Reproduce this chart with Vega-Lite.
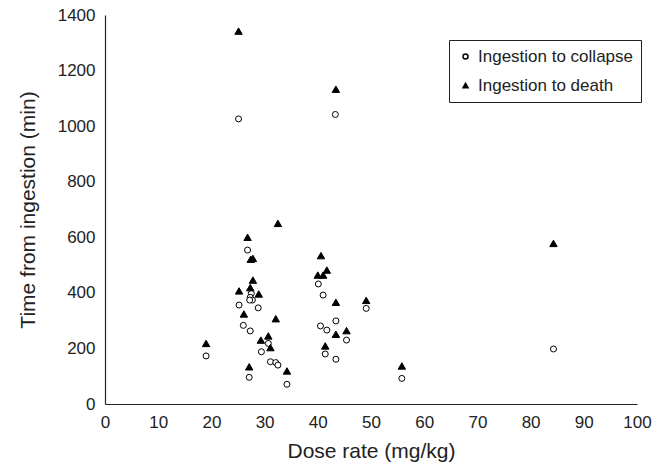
{
  "$schema": "https://vega.github.io/schema/vega-lite/v6.json",
  "autosize": "none",
  "width": 532,
  "height": 389,
  "padding": {"left": 105, "top": 15, "right": 28, "bottom": 61},
  "background": "white",
  "config": {
    "font": "Liberation Sans",
    "view": {"stroke": null}
  },
  "data": {
    "values": [
      {"dose": 25.1, "time": 1026, "series": "Ingestion to collapse"},
      {"dose": 43.3, "time": 1042, "series": "Ingestion to collapse"},
      {"dose": 84.3, "time": 198, "series": "Ingestion to collapse"},
      {"dose": 26.8, "time": 554, "series": "Ingestion to collapse"},
      {"dose": 27.5, "time": 398, "series": "Ingestion to collapse"},
      {"dose": 27.3, "time": 384, "series": "Ingestion to collapse"},
      {"dose": 27.7, "time": 374, "series": "Ingestion to collapse"},
      {"dose": 27.2, "time": 374, "series": "Ingestion to collapse"},
      {"dose": 25.2, "time": 356, "series": "Ingestion to collapse"},
      {"dose": 28.8, "time": 346, "series": "Ingestion to collapse"},
      {"dose": 26.0, "time": 283, "series": "Ingestion to collapse"},
      {"dose": 27.3, "time": 263, "series": "Ingestion to collapse"},
      {"dose": 30.7, "time": 218, "series": "Ingestion to collapse"},
      {"dose": 29.4, "time": 188, "series": "Ingestion to collapse"},
      {"dose": 31.1, "time": 152, "series": "Ingestion to collapse"},
      {"dose": 32.1, "time": 149, "series": "Ingestion to collapse"},
      {"dose": 32.5, "time": 140, "series": "Ingestion to collapse"},
      {"dose": 34.2, "time": 71, "series": "Ingestion to collapse"},
      {"dose": 19.0, "time": 173, "series": "Ingestion to collapse"},
      {"dose": 27.1, "time": 96, "series": "Ingestion to collapse"},
      {"dose": 40.1, "time": 432, "series": "Ingestion to collapse"},
      {"dose": 41.0, "time": 392, "series": "Ingestion to collapse"},
      {"dose": 49.1, "time": 344, "series": "Ingestion to collapse"},
      {"dose": 43.4, "time": 299, "series": "Ingestion to collapse"},
      {"dose": 40.5, "time": 281, "series": "Ingestion to collapse"},
      {"dose": 41.7, "time": 266, "series": "Ingestion to collapse"},
      {"dose": 45.4, "time": 230, "series": "Ingestion to collapse"},
      {"dose": 41.4, "time": 180, "series": "Ingestion to collapse"},
      {"dose": 43.4, "time": 161, "series": "Ingestion to collapse"},
      {"dose": 55.8, "time": 92, "series": "Ingestion to collapse"},
      {"dose": 25.1, "time": 1342, "series": "Ingestion to death"},
      {"dose": 43.4, "time": 1133, "series": "Ingestion to death"},
      {"dose": 84.3, "time": 578, "series": "Ingestion to death"},
      {"dose": 32.5, "time": 650, "series": "Ingestion to death"},
      {"dose": 26.8, "time": 600, "series": "Ingestion to death"},
      {"dose": 27.4, "time": 521, "series": "Ingestion to death"},
      {"dose": 27.8, "time": 524, "series": "Ingestion to death"},
      {"dose": 27.8, "time": 446, "series": "Ingestion to death"},
      {"dose": 27.3, "time": 419, "series": "Ingestion to death"},
      {"dose": 25.2, "time": 407, "series": "Ingestion to death"},
      {"dose": 28.9, "time": 396, "series": "Ingestion to death"},
      {"dose": 26.1, "time": 324, "series": "Ingestion to death"},
      {"dose": 32.1, "time": 307, "series": "Ingestion to death"},
      {"dose": 29.3, "time": 230, "series": "Ingestion to death"},
      {"dose": 30.7, "time": 245, "series": "Ingestion to death"},
      {"dose": 31.1, "time": 203, "series": "Ingestion to death"},
      {"dose": 34.2, "time": 119, "series": "Ingestion to death"},
      {"dose": 19.0, "time": 218, "series": "Ingestion to death"},
      {"dose": 27.1, "time": 134, "series": "Ingestion to death"},
      {"dose": 40.6, "time": 534, "series": "Ingestion to death"},
      {"dose": 41.7, "time": 482, "series": "Ingestion to death"},
      {"dose": 40.0, "time": 464, "series": "Ingestion to death"},
      {"dose": 41.0, "time": 464, "series": "Ingestion to death"},
      {"dose": 43.4, "time": 366, "series": "Ingestion to death"},
      {"dose": 49.1, "time": 373, "series": "Ingestion to death"},
      {"dose": 43.4, "time": 251, "series": "Ingestion to death"},
      {"dose": 45.4, "time": 264, "series": "Ingestion to death"},
      {"dose": 41.4, "time": 209, "series": "Ingestion to death"},
      {"dose": 55.8, "time": 137, "series": "Ingestion to death"}
    ]
  },
  "encoding": {
    "x": {
      "field": "dose", "type": "quantitative",
      "scale": {"domain": [0, 100], "nice": false, "zero": true},
      "axis": {
        "title": "Dose rate (mg/kg)", "values": [0,10,20,30,40,50,60,70,80,90,100],
        "grid": false, "ticks": false, "domainColor": "#222", "domainWidth": 1.2,
        "labelFlush": false, "labelOverlap": false,
        "labelFontSize": 17, "labelColor": "#222", "labelPadding": 10,
        "titleFontSize": 21, "titleFontWeight": "normal", "titleColor": "#222", "titlePadding": 10
      }
    },
    "y": {
      "field": "time", "type": "quantitative",
      "scale": {"domain": [0, 1400], "nice": false},
      "axis": {
        "title": "Time from ingestion (min)", "values": [0,200,400,600,800,1000,1200,1400],
        "format": "d",
        "grid": false, "ticks": false, "domainColor": "#222", "domainWidth": 1.2,
        "labelFlush": false, "labelOverlap": false,
        "labelFontSize": 17, "labelColor": "#222", "labelPadding": 10,
        "titleFontSize": 21, "titleFontWeight": "normal", "titleColor": "#222", "titlePadding": 19
      }
    },
    "shape": {
      "field": "series", "type": "nominal",
      "scale": {"domain": ["Ingestion to collapse", "Ingestion to death"], "range": ["circle", "triangle-up"]},
      "legend": {
        "title": null, "orient": "none", "legendX": 344, "legendY": 25,
        "strokeColor": "#222", "padding": 8, "labelFontSize": 17, "labelColor": "#222",
        "symbolSize": 25, "rowPadding": 11, "labelOffset": 4,
        "encode": {"symbols": {"update": {"stroke": {"value": "black"}, "strokeWidth": {"value": 1}}}}
      }
    },
    "fill": {
      "field": "series", "type": "nominal",
      "scale": {"domain": ["Ingestion to collapse", "Ingestion to death"], "range": ["white", "black"]},
      "legend": {
        "title": null, "orient": "none", "legendX": 344, "legendY": 25,
        "strokeColor": "#222", "padding": 8, "labelFontSize": 17, "labelColor": "#222",
        "symbolSize": 25, "rowPadding": 11, "labelOffset": 4,
        "encode": {"symbols": {"update": {"stroke": {"value": "black"}, "strokeWidth": {"value": 1}}}}
      }
    }
  },
  "layer": [
    {
      "transform": [{"filter": "datum.series === 'Ingestion to collapse'"}],
      "mark": {"type": "point", "size": 36, "stroke": "black", "strokeWidth": 1, "opacity": 1, "filled": false}
    },
    {
      "transform": [{"filter": "datum.series === 'Ingestion to death'"}],
      "mark": {"type": "point", "size": 55, "stroke": "black", "strokeWidth": 1, "opacity": 1, "filled": false}
    }
  ]
}
